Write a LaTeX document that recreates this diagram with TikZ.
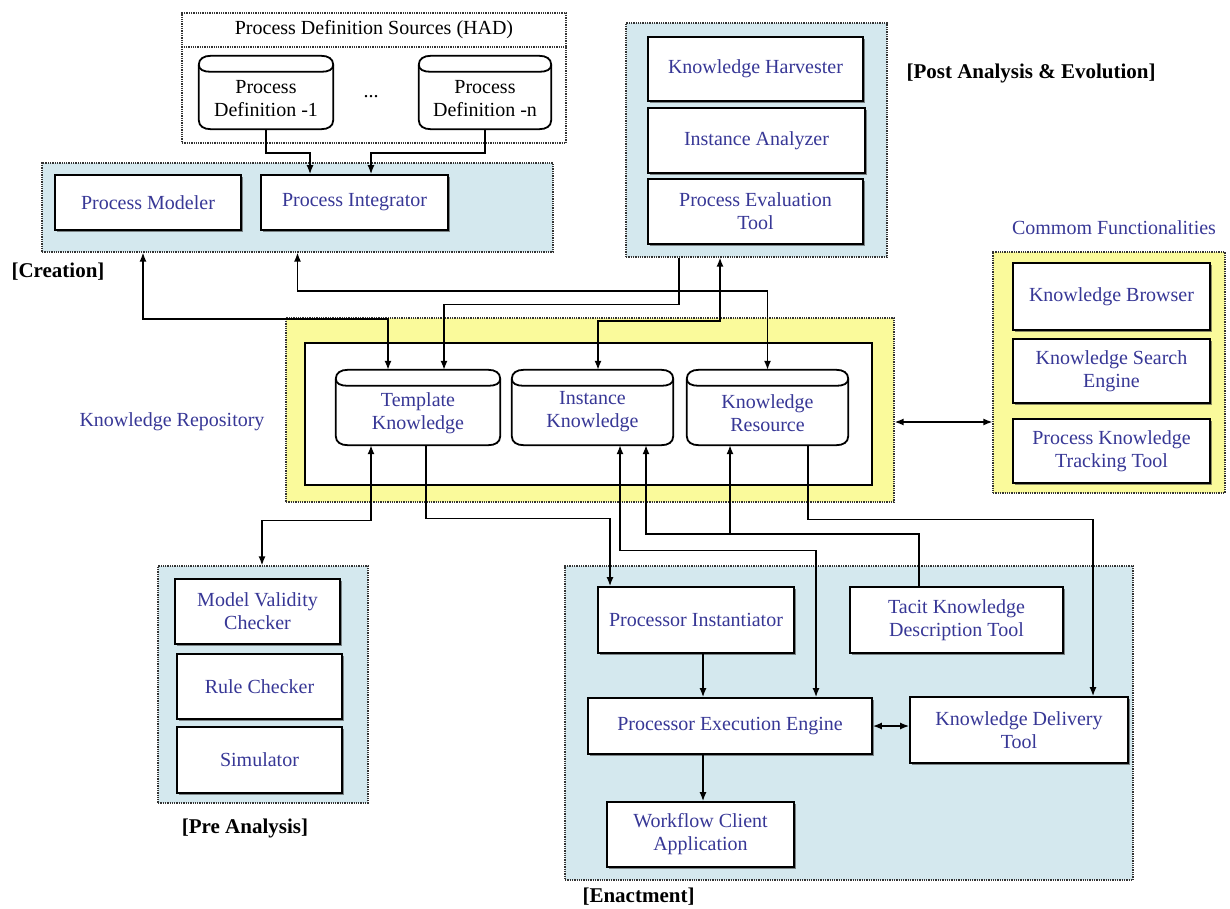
\documentclass[tikz,border=0pt]{standalone}
\usepackage{fontspec}
\setmainfont{Liberation Serif}
\usetikzlibrary{arrows.meta,shadows,calc}
\definecolor{txtblue}{RGB}{55,55,150}
\definecolor{grpblue}{RGB}{212,232,238}
\definecolor{grpyellow}{RGB}{250,250,155}
\pgfdeclarelayer{back}
\pgfdeclarelayer{mid}
\pgfsetlayers{back,mid,main}
\tikzset{
 fnt/.style={font=\fontsize{20}{23}\selectfont},
 wh/.style 2 args={minimum width=#1pt,minimum height=#2pt},
 box/.style={draw, line width=1.8pt, fill=white, text=txtblue, align=center, fnt, inner sep=0pt,
   drop shadow={shadow xshift=2.2pt, shadow yshift=-2.2pt, fill=black!75, opacity=0.6}},
 grp/.style={draw=black!80, densely dotted, line width=1.3pt, inner sep=0pt},
 cyltxt/.style={align=center, fnt, yshift=-6pt},
 cyl/.style={inner sep=0pt},
 cylshape/.style={draw, line width=1.8pt, fill=white},
 conn/.style={line width=1.4pt},
 arr/.style={conn, -{Latex[length=9pt,width=7pt]}},
 darr/.style={conn, {Latex[length=9pt,width=7pt]}-{Latex[length=9pt,width=7pt]}},
 lbl/.style={font=\fontsize{21}{24}\selectfont\bfseries},
 glbl/.style={fnt, text=txtblue},
}
\begin{document}
\begin{tikzpicture}[x=1pt,y=-1pt]
\useasboundingbox (0,0) rectangle (1230,909);

\begin{pgfonlayer}{back}
\node[grp, fill=white, wh={384}{130}] (had) at (374,78) {};
\node[grp, fill=grpblue, wh={511}{89}] (creation) at (297.5,207.5) {};
\node[grp, fill=grpblue, wh={261}{234}] (post) at (756.5,140) {};
\node[grp, fill=grpyellow, wh={232}{241}] (common) at (1109,372.5) {};
\node[grp, fill=grpyellow, wh={608}{184}] (repo) at (590,410) {};
\node[draw, line width=1.8pt, fill=white, wh={567}{142}] (repoin) at (588.5,414) {};
\node[grp, fill=grpblue, wh={210}{237}] (pre) at (263,684.5) {};
\node[grp, fill=grpblue, wh={568}{314}] (enact) at (849,723) {};
\end{pgfonlayer}

\coordinate (hadsep) at (374,47);
\draw[grp] (had.west |- hadsep) -- (had.east |- hadsep);
\node[fnt] (hadt) at (374,30) {Process Definition Sources (HAD)};

\node[cyl, wh={134}{73}, label={[cyltxt]center:{Process\\Definition -1}}] (pd1) at (266,92.5) {};
\node[cyl, wh={132}{73}, label={[cyltxt]center:{Process\\Definition -n}}] (pdn) at (485,92.5) {};
\node[fnt] (dots) at (371,97) {...};
\node[cyl, wh={164}{75}, label={[cyltxt,text=txtblue]center:{Template\\Knowledge}}] (tk) at (418,407.5) {};
\node[cyl, wh={161}{75}, label={[cyltxt,text=txtblue,yshift=2pt]center:{Instance\\Knowledge}}] (ik) at (592.5,407.5) {};
\node[cyl, wh={161}{75}, label={[cyltxt,text=txtblue]center:{Knowledge\\Resource}}] (kr) at (767.5,407.5) {};

\begin{pgfonlayer}{mid}
\foreach \n in {pd1,pdn,tk,ik,kr}{
 \fill[black!75, opacity=0.5, shift={(2pt,-2pt)}] ([yshift=-9pt]\n.north west) -- ([yshift=-9pt]\n.north east) -- ([yshift=9pt]\n.south east) .. controls ([yshift=3pt]\n.south east) and ([xshift=-5pt]\n.south east) .. ([xshift=-12pt]\n.south east)
   -- ([xshift=12pt]\n.south west) .. controls ([xshift=5pt]\n.south west) and ([yshift=3pt]\n.south west) .. ([yshift=9pt]\n.south west) -- cycle;
 \draw[cylshape] ([yshift=-9pt]\n.north west) .. controls ([yshift=-3pt]\n.north west) and ([xshift=5pt]\n.north west) .. ([xshift=12pt]\n.north west)
   -- ([xshift=-12pt]\n.north east) .. controls ([xshift=-5pt]\n.north east) and ([yshift=-3pt]\n.north east) .. ([yshift=-9pt]\n.north east)
   -- ([yshift=9pt]\n.south east) .. controls ([yshift=3pt]\n.south east) and ([xshift=-5pt]\n.south east) .. ([xshift=-12pt]\n.south east)
   -- ([xshift=12pt]\n.south west) .. controls ([xshift=5pt]\n.south west) and ([yshift=3pt]\n.south west) .. ([yshift=9pt]\n.south west) -- cycle;
 \draw[line width=1.8pt] ([yshift=-9pt]\n.north west) .. controls ([yshift=-14pt]\n.north west) and ([xshift=5pt,yshift=-16pt]\n.north west) .. ([xshift=12pt,yshift=-16pt]\n.north west)
   -- ([xshift=-12pt,yshift=-16pt]\n.north east) .. controls ([xshift=-5pt,yshift=-16pt]\n.north east) and ([yshift=-14pt]\n.north east) .. ([yshift=-9pt]\n.north east);
}
\end{pgfonlayer}

\node[lbl, anchor=west] (lcre) at (8,272) {[Creation]};
\node[lbl, anchor=west] (lpost) at (903,73) {[Post Analysis \& Evolution]};
\node[glbl] (lcom) at (1114,228) {Commom Functionalities};
\node[glbl] (lrepo) at (172,422) {Knowledge Repository};
\node[lbl] (lpre) at (245,828) {[Pre Analysis]};
\node[lbl, anchor=west] (lenact) at (579,897) {[Enactment]};

\node[box, wh={186}{55}] (pm) at (148,202.5) {Process Modeler};
\node[box, wh={187}{55}] (pint) at (354.5,202.5) {Process Integrator};
\node[box, wh={215}{64}] (kh) at (755.5,69) {Knowledge Harvester};
\node[box, wh={217}{65}] (ia) at (756.5,140.5) {Instance Analyzer};
\node[box, wh={215}{65}] (pet) at (755.5,211.5) {Process Evaluation\\Tool};
\node[box, wh={197}{67}] (kb) at (1111.5,296.5) {Knowledge Browser};
\node[box, wh={197}{64}] (kse) at (1111.5,371) {Knowledge Search\\Engine};
\node[box, wh={197}{64}] (pktt) at (1111.5,451) {Process Knowledge\\Tracking Tool};
\node[box, wh={165}{65}] (mvc) at (257.5,611.5) {Model Validity\\Checker};
\node[box, wh={165}{65}] (rc) at (259.5,686.5) {Rule Checker};
\node[box, wh={165}{66}] (sim) at (259.5,760) {Simulator};
\node[box, wh={196}{66}] (pi) at (696,620) {Processor Instantiator};
\node[box, wh={213}{66}] (tacit) at (956.5,620) {Tacit Knowledge\\Description Tool};
\node[box, wh={284}{56}] (pee) at (730,726) {Processor Execution Engine};
\node[box, wh={218}{66}] (kdt) at (1019,730) {Knowledge Delivery\\Tool};
\node[box, wh={187}{65}] (wca) at (700.5,834.5) {Workflow Client\\Application};

\draw[arr] (pd1.south) -- ++(0,24) -| ([xshift=-44.5pt]pint.north);
\draw[arr] (pdn.south) -- ++(0,24) -| ([xshift=16.5pt]pint.north);
\draw[darr] ([xshift=-30pt]tk.north) -- ++(0,-51) -| ([xshift=-154.5pt]creation.south);
\draw[darr] (kr.north) -- ++(0,-79) -| (creation.south);
\draw[arr] ([xshift=-77.5pt]post.south) -- ++(0,47) -| ([xshift=26pt]tk.north);
\draw[darr] ([xshift=5.5pt]ik.north) -- ++(0,-49) -| ([xshift=-36.5pt]post.south);
\draw[darr] ([xshift=-47pt]tk.south) -- ++(0,75) -| ([xshift=-1pt]pre.north);
\draw[arr] ([xshift=8pt]tk.south) -- ++(0,73) -| ([xshift=-86pt]pi.north);
\draw[darr] ([xshift=27.5pt]ik.south) -- ++(0,105) -| ([xshift=86pt]pee.north);
\draw[arr] ([xshift=-37.5pt]tacit.north) -- ++(0,-52) coordinate (tj) -| ([xshift=53.5pt]ik.south);
\coordinate (krb) at ([xshift=-37.5pt]kr.south);
\draw[arr] (krb |- tj) -- (krb);
\draw[arr] ([xshift=40.5pt]kr.south) -- ++(0,74) -| ([xshift=74pt]kdt.north);
\coordinate (pib) at ([xshift=7pt]pi.south);
\draw[arr] (pib) -- (pib |- pee.north);
\coordinate (peeb) at ([xshift=-27pt]pee.south);
\draw[arr] (peeb) -- (peeb |- wca.north);
\draw[darr] (pee.east) -- (pee.east -| kdt.west);
\coordinate (re) at ([yshift=-12pt]repo.east);
\draw[darr] (re) -- (re -| common.west);
\end{tikzpicture}
\end{document}
